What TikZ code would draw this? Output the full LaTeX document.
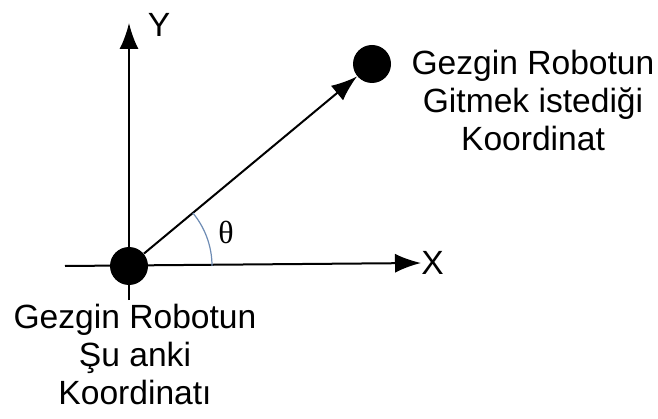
\documentclass[tikz,border=0pt]{standalone}
\usepackage{fontspec}
\setmainfont{Liberation Sans}
\newfontfamily\thetafont{Liberation Serif}
\usepackage{xcolor}
\usetikzlibrary{arrows.meta,positioning}
\definecolor{acirenk}{RGB}{110,140,180}

\begin{document}
\begin{tikzpicture}[
        x=0.5pt, y=0.5pt,
        % noktalar, etiketler ve eksenler
        nokta/.style={circle, fill=black, inner sep=0pt, minimum size=19pt},
        etiket/.style={align=center, font=\fontsize{16.8}{19}\selectfont, inner sep=0pt},
        eksen/.style={line width=1pt, -{Latex[length=13pt,width=9.5pt]}},
        aci/.style={draw=acirenk, line width=0.6pt}
    ]
        \useasboundingbox (0,0) rectangle (658,418);

        \node [nokta] (start) at (129,152) {};
        \node [nokta] (target) at (372,354) {};
        \node [etiket, anchor=west] (xlab) at (421,155) {X};
        \node [etiket] (ylab) at (159,393) {Y};
        \coordinate (xbas) at (65,152);
        \coordinate (ybas) at (129,118);
        \coordinate (yuc) at (129,395);

        \node [etiket] (startlab) at (135,64) {Gezgin Robotun\\Şu anki\\Koordinatı};
        \node [etiket] (targetlab) at (533,318) {Gezgin Robotun\\Gitmek istediği\\Koordinat};
        \node [etiket, font=\thetafont\fontsize{16}{19}\selectfont] (theta) at (226,186) {θ};

        \draw[eksen] (xbas) -- (xlab.west);
        \draw[eksen] (ybas) -- (yuc);
        \draw[eksen] (start) -- (target);
        \draw[aci] (start.center) ++(41.5pt,0pt) arc[start angle=0, end angle=39.7, radius=41.5pt];
    \end{tikzpicture}
\end{document}
